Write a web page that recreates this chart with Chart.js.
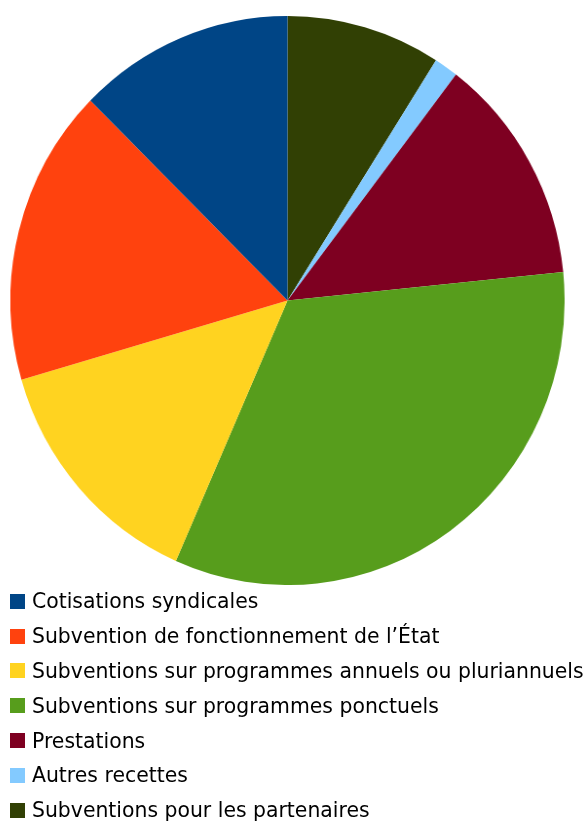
<!DOCTYPE html>
<html>
<head>
<meta charset="utf-8">
<script src="https://cdn.jsdelivr.net/npm/chart.js@4/dist/chart.umd.min.js"></script>
<style>
  body { margin: 0; background: #fff; width: 587px; height: 823px; overflow: hidden; position: relative; }
  #wrap { position: absolute; left: 3px; top: 16px; width: 569px; height: 569px; transform: scaleX(0.974); transform-origin: 50% 50%; }
  #legend { position: absolute; left: 0; top: 584px; font-family: "DejaVu Sans", sans-serif; font-size: 20.4px; color: #000; }
  .row { height: 34.8px; display: flex; align-items: center; white-space: nowrap; }
  .box { width: 15px; height: 15px; margin-left: 10px; margin-right: 7px; flex: none; }
</style>
</head>
<body>
<div id="wrap"><canvas id="chart" width="569" height="569"></canvas></div>
<div id="legend"></div>
<script>
const labels = [
    'Cotisations syndicales',
    'Subvention de fonctionnement de l\u2019État',
    'Subventions sur programmes annuels ou pluriannuels',
    'Subventions sur programmes ponctuels',
    'Prestations',
    'Autres recettes',
    'Subventions pour les partenaires'
];
const values = [12.6, 16.9, 13.9, 33.2, 13.0, 1.4, 9.0];
const colors = ['#004586', '#ff420e', '#ffd320', '#579d1c', '#7e0021', '#83caff', '#314004'];

// the original runs counter-clockwise from the top, so feed the pie reversed
const pieLabels = labels.slice().reverse();
const pieValues = values.slice().reverse();
const pieColors = colors.slice().reverse();

const ctx = document.getElementById('chart').getContext('2d');
new Chart(ctx, {
    type: 'pie',
    data: {
        labels: pieLabels,
        datasets: [{
            data: pieValues,
            backgroundColor: pieColors,
            borderWidth: 0
        }]
    },
    options: {
        responsive: false,
        animation: false,
        radius: 284.5,
        layout: { padding: 0 },
        plugins: {
            legend: { display: false },
            tooltip: { enabled: false }
        }
    }
});

const legend = document.getElementById('legend');
labels.forEach((label, i) => {
    const row = document.createElement('div');
    row.className = 'row';
    const box = document.createElement('span');
    box.className = 'box';
    box.style.background = colors[i];
    const text = document.createElement('span');
    text.textContent = label;
    row.appendChild(box);
    row.appendChild(text);
    legend.appendChild(row);
});
</script>
</body>
</html>
